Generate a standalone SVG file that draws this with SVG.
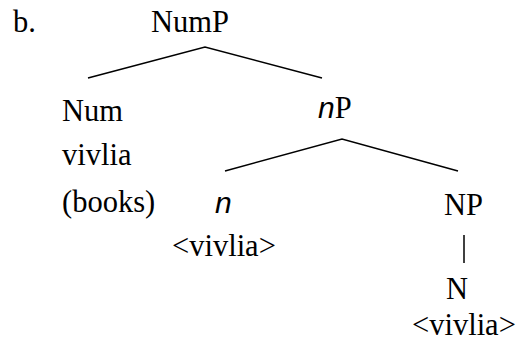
<svg xmlns="http://www.w3.org/2000/svg" width="522" height="345" viewBox="0 0 522 345">
<style>
text{font-family:"Liberation Serif","Times New Roman",serif;font-size:30.5px;fill:#000}
.it{font-family:"Liberation Sans",Arial,sans-serif;font-style:italic;font-size:30px}
line,polyline{stroke:#000;stroke-width:1.5;fill:none}
</style>
<rect width="522" height="345" fill="#fff"/>
<text x="13" y="32">b.</text>
<g id="NumP"><text x="151" y="32">NumP</text></g>
<g id="Num"><text x="62" y="121">Num</text><text x="62" y="165">vivlia</text><text x="62" y="212">(books)</text></g>
<g id="nP"><text x="318" y="118"><tspan class="it">n</tspan>P</text></g>
<g id="n"><text class="it" x="215" y="213">n</text><text x="172" y="256">&lt;vivlia&gt;</text></g>
<g id="NP"><text x="444" y="215">NP</text></g>
<g id="N"><text x="446" y="299">N</text><text x="412" y="335">&lt;vivlia&gt;</text></g>
<g id="connectors">
<polyline points="88,78 205,47 322,78"/>
<polyline points="225,171 342,139 458,171"/>
<line x1="464" y1="235" x2="464" y2="263"/>
</g>
</svg>
